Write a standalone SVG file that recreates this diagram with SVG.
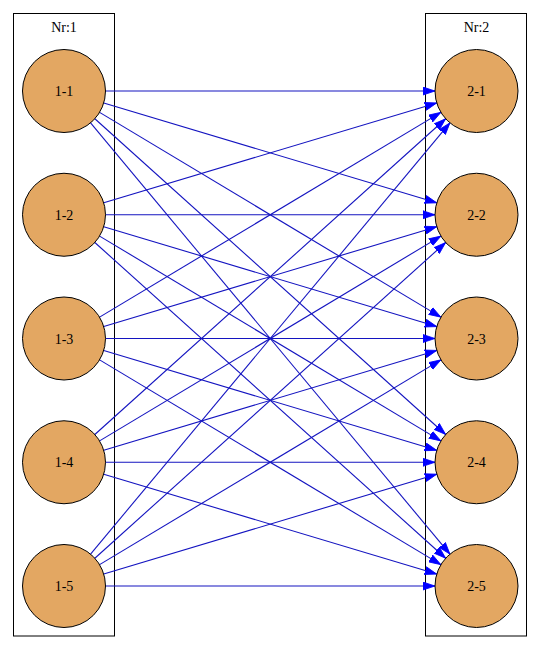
<svg xmlns="http://www.w3.org/2000/svg" width="540" height="650" viewBox="0 0 540 650">
<style>
.cl{fill:none;stroke:#000;stroke-width:1}
.nd{fill:#e3a762;stroke:#000;stroke-width:1}
.t{font-family:"Liberation Serif","Times New Roman",serif;font-size:14px;fill:#000;text-anchor:middle}
.e line{stroke:#1414c0;stroke-width:1.1;marker-end:url(#ah)}
</style>
<defs>
<marker id="ah" markerUnits="userSpaceOnUse" markerWidth="13" markerHeight="9" refX="12" refY="4.5" orient="auto" viewBox="0 0 13 9">
<path d="M0,0.5 L12,4.5 L0,8.5 z" fill="#0000ff" stroke="#0000ff" stroke-width="0.8"/>
</marker>
</defs>
<rect id="cluster1" class="cl" x="13.5" y="13.5" width="101" height="622.5"/>
<text class="t" x="64" y="32">Nr:1</text>
<rect id="cluster2" class="cl" x="425.5" y="13.5" width="101" height="622.5"/>
<text class="t" x="476.5" y="32">Nr:2</text>
<g class="e" id="edges">
<line x1="105.5" y1="91" x2="435" y2="91"/>
<line x1="103.75" y1="102.93" x2="436.75" y2="202.83"/>
<line x1="99.59" y1="112.35" x2="440.91" y2="317.15"/>
<line x1="94.85" y1="118.76" x2="445.65" y2="434.49"/>
<line x1="90.57" y1="122.88" x2="449.93" y2="554.12"/>
<line x1="103.75" y1="202.83" x2="436.75" y2="102.93"/>
<line x1="105.5" y1="214.75" x2="435" y2="214.75"/>
<line x1="103.75" y1="226.68" x2="436.75" y2="326.58"/>
<line x1="99.59" y1="236.10" x2="440.91" y2="440.90"/>
<line x1="94.85" y1="242.51" x2="445.65" y2="558.24"/>
<line x1="99.59" y1="317.15" x2="440.91" y2="112.35"/>
<line x1="103.75" y1="326.58" x2="436.75" y2="226.68"/>
<line x1="105.5" y1="338.5" x2="435" y2="338.5"/>
<line x1="103.75" y1="350.43" x2="436.75" y2="450.33"/>
<line x1="99.59" y1="359.85" x2="440.91" y2="564.65"/>
<line x1="94.85" y1="434.49" x2="445.65" y2="118.76"/>
<line x1="99.59" y1="440.90" x2="440.91" y2="236.10"/>
<line x1="103.75" y1="450.33" x2="436.75" y2="350.43"/>
<line x1="105.5" y1="462.25" x2="435" y2="462.25"/>
<line x1="103.75" y1="474.18" x2="436.75" y2="574.08"/>
<line x1="90.57" y1="554.12" x2="449.93" y2="122.88"/>
<line x1="94.85" y1="558.24" x2="445.65" y2="242.51"/>
<line x1="99.59" y1="564.65" x2="440.91" y2="359.85"/>
<line x1="103.75" y1="574.08" x2="436.75" y2="474.18"/>
<line x1="105.5" y1="586" x2="435" y2="586"/>
</g>
<g id="n1-1"><circle class="nd" cx="64" cy="91" r="41.5"/><text class="t" x="64" y="96">1-1</text></g>
<g id="n1-2"><circle class="nd" cx="64" cy="214.75" r="41.5"/><text class="t" x="64" y="219.75">1-2</text></g>
<g id="n1-3"><circle class="nd" cx="64" cy="338.5" r="41.5"/><text class="t" x="64" y="343.5">1-3</text></g>
<g id="n1-4"><circle class="nd" cx="64" cy="462.25" r="41.5"/><text class="t" x="64" y="467.25">1-4</text></g>
<g id="n1-5"><circle class="nd" cx="64" cy="586" r="41.5"/><text class="t" x="64" y="591">1-5</text></g>
<g id="n2-1"><circle class="nd" cx="476.5" cy="91" r="41.5"/><text class="t" x="476.5" y="96">2-1</text></g>
<g id="n2-2"><circle class="nd" cx="476.5" cy="214.75" r="41.5"/><text class="t" x="476.5" y="219.75">2-2</text></g>
<g id="n2-3"><circle class="nd" cx="476.5" cy="338.5" r="41.5"/><text class="t" x="476.5" y="343.5">2-3</text></g>
<g id="n2-4"><circle class="nd" cx="476.5" cy="462.25" r="41.5"/><text class="t" x="476.5" y="467.25">2-4</text></g>
<g id="n2-5"><circle class="nd" cx="476.5" cy="586" r="41.5"/><text class="t" x="476.5" y="591">2-5</text></g>
</svg>
